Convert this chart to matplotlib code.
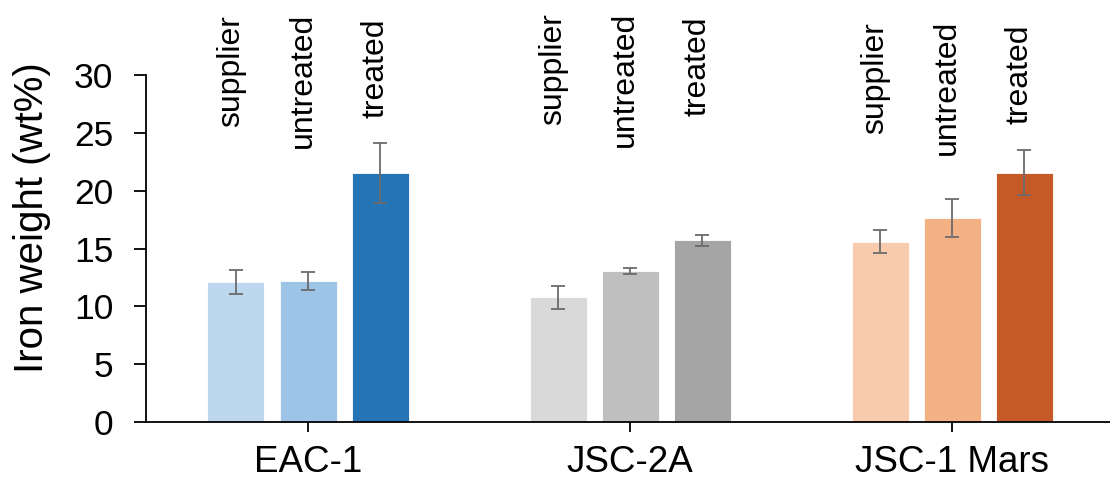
import matplotlib
matplotlib.use("Agg")
import matplotlib.pyplot as plt
import numpy as np

plt.rcParams['font.family'] = ['Liberation Sans', 'DejaVu Sans']

groups = ["EAC-1", "JSC-2A", "JSC-1 Mars"]
conditions = ["supplier", "untreated", "treated"]
values = [
    [12.1, 12.2, 21.5],
    [10.8, 13.05, 15.7],
    [15.6, 17.65, 21.55],
]
errors = [
    [1.0, 0.8, 2.6],
    [1.0, 0.27, 0.5],
    [1.0, 1.65, 1.95],
]
colors = [
    ["#bdd7ee", "#9dc3e6", "#2474b6"],
    ["#d9d9d9", "#bfbfbf", "#a5a5a5"],
    ["#f8cbad", "#f4b183", "#c55a28"],
]
yticks = [0, 5, 10, 15, 20, 25, 30]

W, H = 1110, 484
fig = plt.figure(figsize=(W / 100, H / 100), dpi=100)
ax = fig.add_axes([146 / W, 62 / H, 1 - 146 / W, 347 / H])
ax.set_xlim(-0.503, 2.49)
ax.set_ylim(0, 30)

width = 0.177
offset = 0.2236
# top of rotated labels in pixels from figure top
label_tops_px = [[15, 13, 18], [13, 12, 17], [22, 20, 25]]
for gi, g in enumerate(groups):
    for ci, c in enumerate(conditions):
        x = gi + (ci - 1) * offset
        ax.bar(x, values[gi][ci], width=width, color=colors[gi][ci],
               edgecolor="white", linewidth=0.6, zorder=2)
        ax.errorbar(x, values[gi][ci], yerr=errors[gi][ci], fmt="none",
                    ecolor="#6b6b6b", elinewidth=1.3, capsize=5, capthick=1.3, zorder=3)
        xf = fig.transFigure.inverted().transform(ax.transData.transform((x, 0)))[0] - 5 / W
        fig.text(xf, 1 - label_tops_px[gi][ci] / H, c, rotation=90, ha="center", va="top",
                 fontsize=23, color="black")

ax.set_xticks(range(len(groups)))
ax.set_xticklabels(groups, fontsize=26.5)
ax.set_yticks(yticks)
ax.set_yticklabels([str(t) for t in yticks], fontsize=25.5)
ax.set_ylabel("Iron weight (wt%)", fontsize=29)
ax.yaxis.set_label_coords(-0.0985, 0.589)
ax.spines["top"].set_visible(False)
ax.spines["right"].set_visible(False)
ax.spines["left"].set_linewidth(1.3)
ax.spines["bottom"].set_linewidth(1.3)
ax.tick_params(axis="y", direction="out", length=8.6, width=1.3, pad=15)
ax.tick_params(axis="x", direction="out", length=7.5, width=1.3, pad=9)

fig.savefig("out.png", dpi=100)
